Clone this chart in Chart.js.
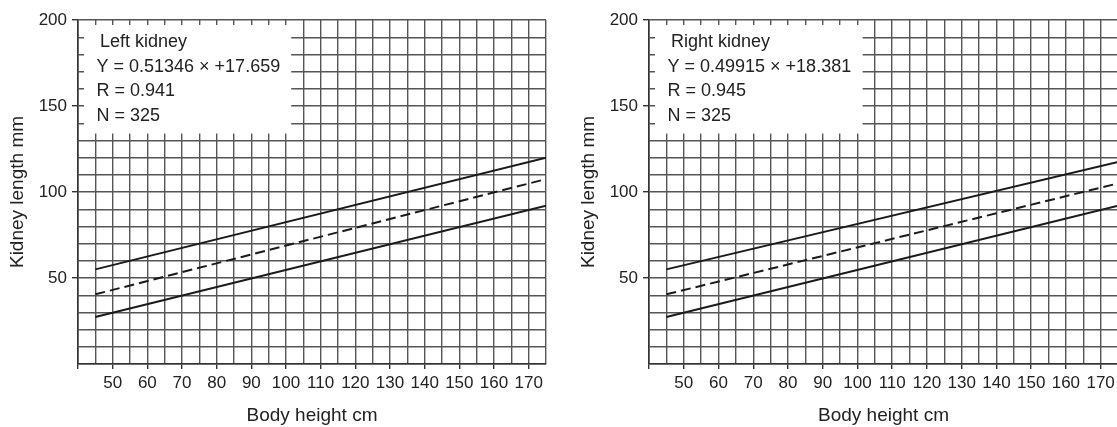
<!DOCTYPE html>
<html>
<head>
  <title>Kidney length</title>
  <script src="https://cdn.jsdelivr.net/npm/chart.js"></script>
  <style>
    body { margin: 0; overflow: hidden; background: #fff; width: 1117px; height: 427px; position: relative; }
    .panel { position: absolute; top: 0; width: 560px; height: 427px; }
  </style>
</head>
<body>
  <div class="panel" style="left: 0px;"><canvas id="leftChart" width="560" height="427"></canvas></div>
  <div class="panel" style="left: 571px;"><canvas id="rightChart" width="560" height="427"></canvas></div>

<script>
// body height (cm) at the two ends of every line
var heightEnds = [45, 175];

// left kidney: upper limit, regression, lower limit (mm)
var leftUpper = [55, 120];
var leftMean = [40.5, 107.5];
var leftLower = [27.3, 92];

// right kidney
var rightUpper = [55, 117.5];
var rightMean = [40.5, 105];
var rightLower = [27.3, 92];

var xTickLabels = [50, 60, 70, 80, 90, 100, 110, 120, 130, 140, 150, 160, 170];
var yTickLabels = [50, 100, 150, 200];

var leftBoxText = ['Left kidney', 'Y = 0.51346 \u00d7 +17.659', 'R = 0.941', 'N = 325'];
var rightBoxText = ['Right kidney', 'Y = 0.49915 \u00d7 +18.381', 'R = 0.945', 'N = 325'];

var FONT = "'Liberation Sans', Arial, sans-serif";

function toPoints(xs, ys) {
  var pts = [];
  for (var i = 0; i < xs.length; i++) {
    pts.push({ x: xs[i], y: ys[i] });
  }
  return pts;
}

// white label box laid over the grid, text written on top
var infoBox = {
  id: 'infoBox',
  beforeDatasetsDraw: function(chart) {
    var ctx = chart.ctx;
    var a = chart.chartArea;
    var r = chart.scales.x.getPixelForValue(101.5);
    var b = chart.scales.y.getPixelForValue(134);
    ctx.save();
    ctx.fillStyle = '#fff';
    ctx.fillRect(a.left + 6, a.top + 5, r - a.left - 6, b - a.top - 5);
    ctx.restore();
  },
  afterDatasetsDraw: function(chart, args, opts) {
    var ctx = chart.ctx;
    var a = chart.chartArea;
    ctx.save();
    ctx.fillStyle = '#222';
    ctx.font = '18px ' + FONT;
    ctx.textBaseline = 'middle';
    for (var i = 0; i < opts.lines.length; i++) {
      var x = a.left + (i === 0 ? 22 : 18.5);
      ctx.fillText(opts.lines[i], x, a.top + 22 + i * 24.7);
    }
    ctx.restore();
  }
};

function makeChart(id, upper, mean, lower, boxText, padRight) {
  var lineStyle = { borderColor: '#1a1a1a', borderWidth: 2, pointRadius: 0, showLine: true, fill: false };
  return new Chart(document.getElementById(id).getContext('2d'), {
    type: 'scatter',
    data: {
      datasets: [
        Object.assign({ data: toPoints(heightEnds, upper) }, lineStyle),
        Object.assign({ data: toPoints(heightEnds, mean), borderDash: [10, 5] }, lineStyle),
        Object.assign({ data: toPoints(heightEnds, lower) }, lineStyle)
      ]
    },
    options: {
      responsive: false,
      animation: false,
      layout: { padding: { top: 20, right: padRight, bottom: 0, left: 0 } },
      plugins: {
        legend: { display: false },
        tooltip: { enabled: false },
        infoBox: { lines: boxText }
      },
      scales: {
        x: {
          type: 'linear',
          min: 40,
          max: 175,
          afterFit: function(s) { s.height = 63; },
          title: { display: true, text: 'Body height cm', color: '#222', font: { size: 19, family: FONT }, padding: { top: 0, bottom: 0 } },
          ticks: {
            stepSize: 5,
            autoSkip: false,
            maxRotation: 0,
            padding: 4,
            color: '#222',
            font: { size: 17, family: FONT },
            callback: function(v) { return xTickLabels.indexOf(v) >= 0 ? String(v) : ''; }
          },
          grid: {
            color: '#555',
            lineWidth: 1.4,
            tickLength: 5,
            tickColor: function(c) { return c.tick && c.tick.value % 10 === 0 ? '#333' : 'rgba(0,0,0,0)'; }
          },
          border: { color: '#333', width: 1.6 }
        },
        y: {
          min: 0,
          max: 200,
          afterFit: function(s) { s.width = 78; },
          title: { display: true, text: 'Kidney length mm', color: '#222', font: { size: 19, family: FONT }, padding: { top: 6.5, bottom: 0 } },
          ticks: {
            stepSize: 10,
            autoSkip: false,
            padding: 5,
            color: '#222',
            font: { size: 17, family: FONT },
            callback: function(v) { return yTickLabels.indexOf(v) >= 0 ? String(v) : ''; }
          },
          grid: {
            color: '#555',
            lineWidth: 1.4,
            tickLength: 6,
            tickColor: function(c) { return c.tick && yTickLabels.indexOf(c.tick.value) >= 0 ? '#333' : 'rgba(0,0,0,0)'; }
          },
          border: { color: '#333', width: 1.6 }
        }
      }
    },
    plugins: [infoBox]
  });
}

makeChart('leftChart', leftUpper, leftMean, leftLower, leftBoxText, 14);
makeChart('rightChart', rightUpper, rightMean, rightLower, rightBoxText, 13);
</script>
</body>
</html>
